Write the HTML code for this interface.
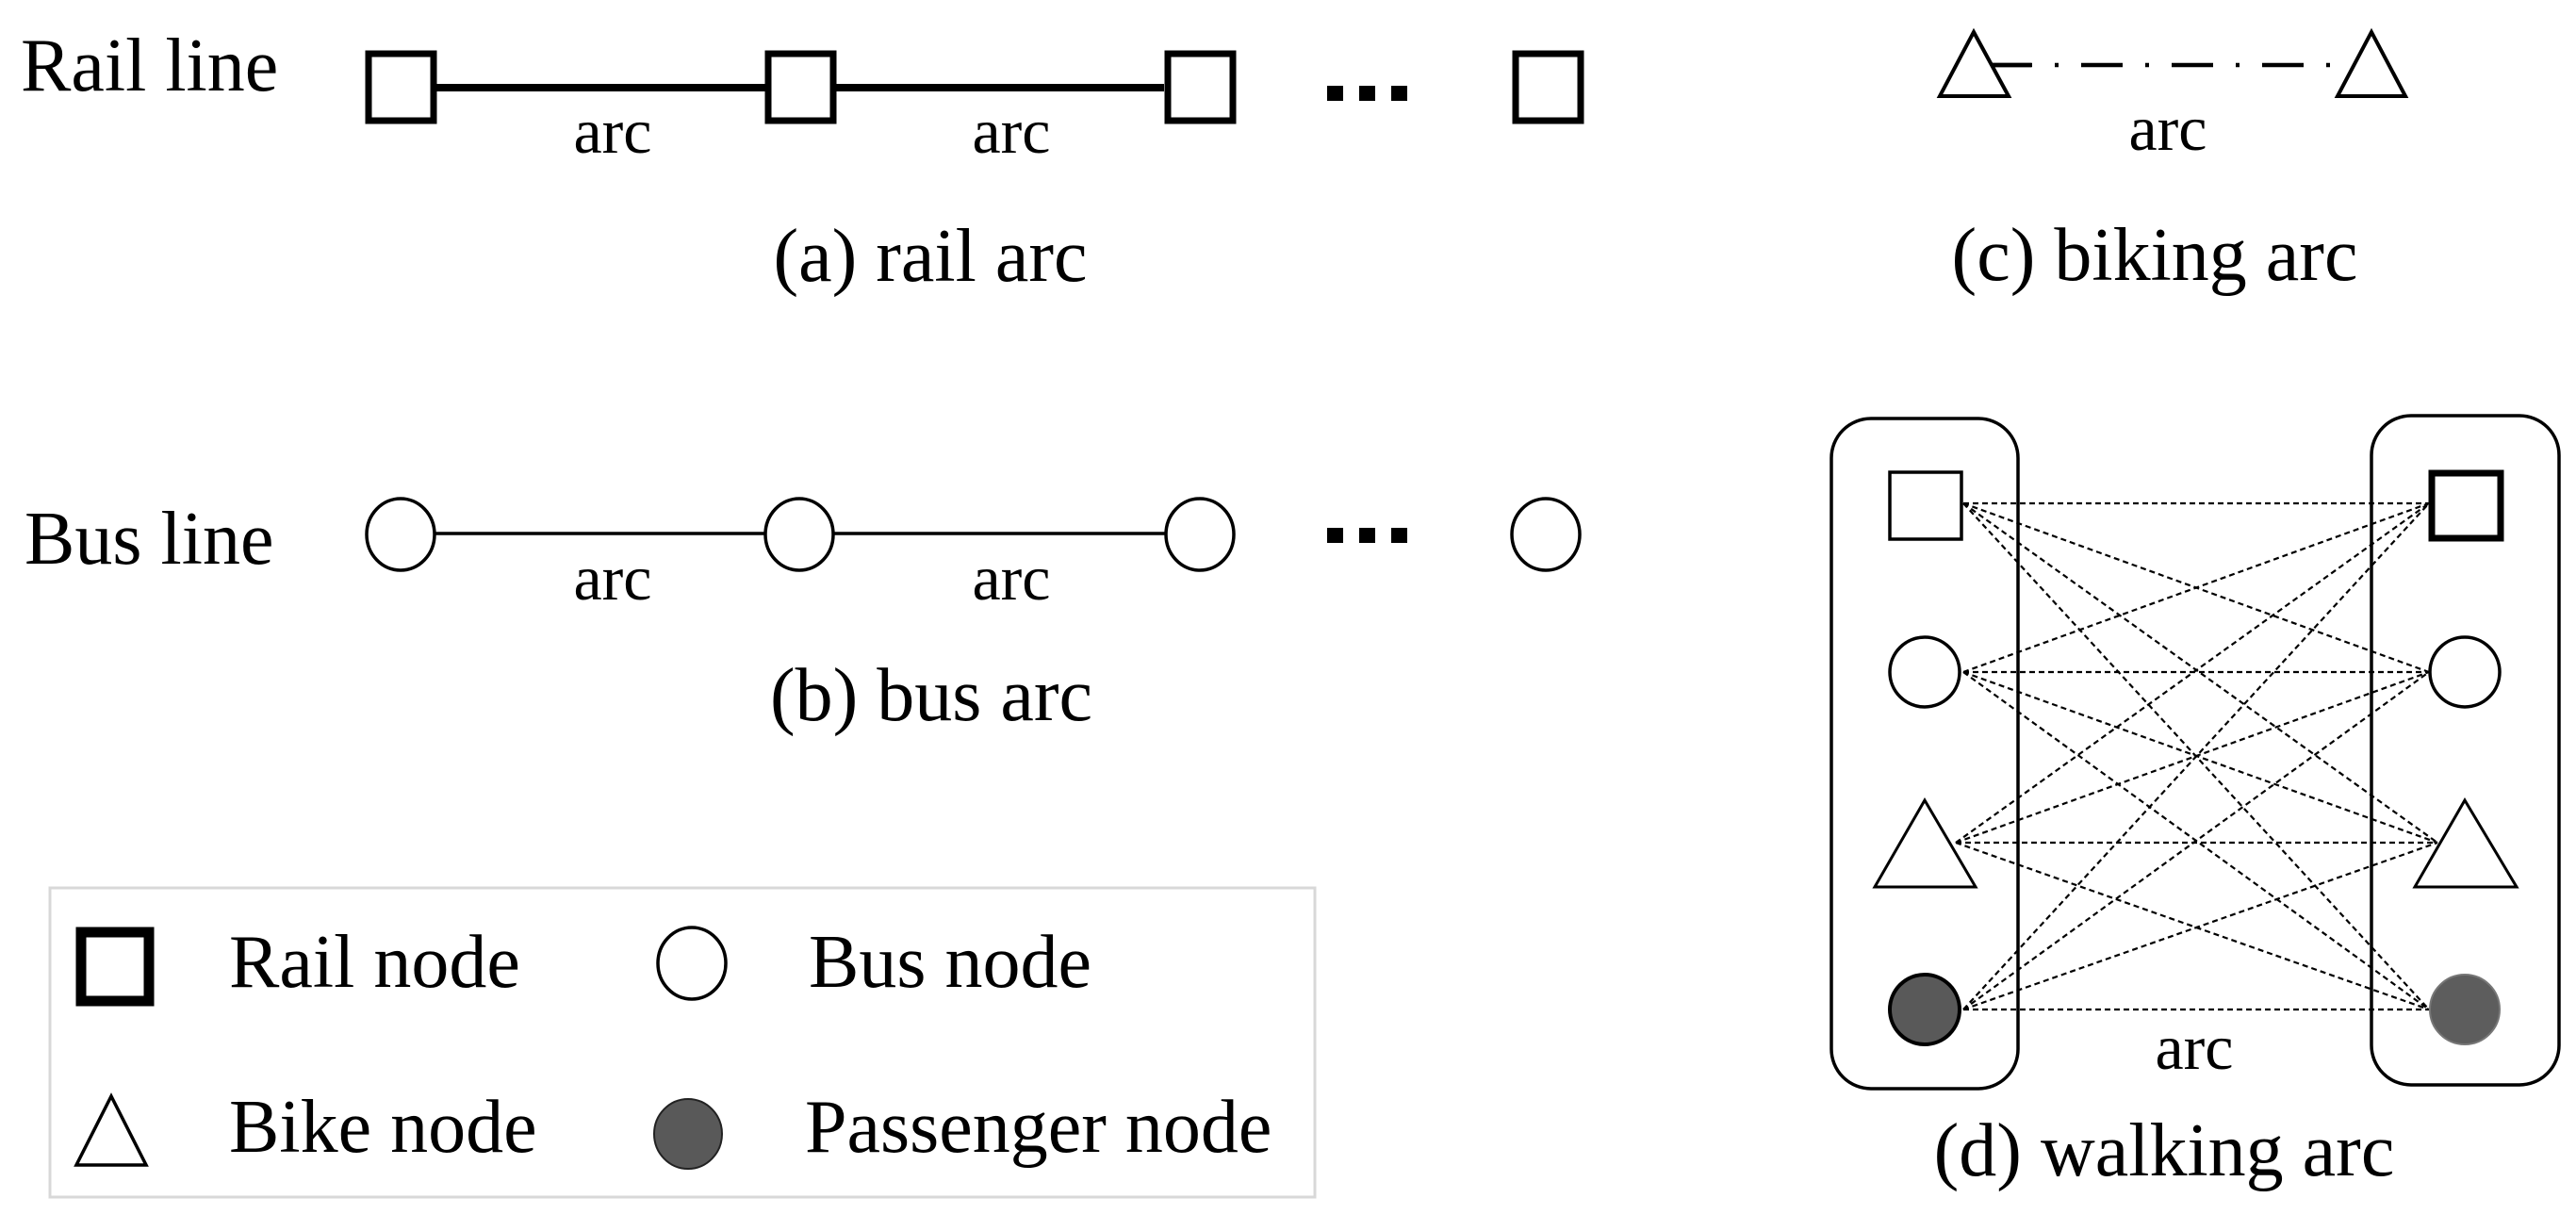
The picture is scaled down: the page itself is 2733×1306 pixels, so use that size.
<!DOCTYPE html>
<html><head><meta charset="utf-8"><style>
html,body{margin:0;padding:0;background:#fff;}
svg{display:block;}
text{font-family:"Liberation Serif",serif;fill:#000;}
</style></head><body>
<svg width="2733" height="1306" viewBox="0 0 2733 1306" xmlns="http://www.w3.org/2000/svg">
<!-- (a) rail -->
<text x="22" y="96" font-size="80">Rail line</text>
<line x1="460" y1="93" x2="1235" y2="93" stroke="#000" stroke-width="8"/>
<g fill="#fff" stroke="#000" stroke-width="7">
<rect x="391" y="57" width="69" height="71"/>
<rect x="815" y="57" width="69" height="71"/>
<rect x="1239" y="57" width="69" height="71"/>
<rect x="1608" y="57" width="69" height="71"/>
</g>
<g fill="#000"><rect x="1408" y="91" width="17" height="16"/><rect x="1442" y="91" width="17" height="16"/><rect x="1476" y="91" width="17" height="16"/></g>
<text x="650" y="162" font-size="68" text-anchor="middle">arc</text>
<text x="1073" y="162" font-size="68" text-anchor="middle">arc</text>
<text x="987" y="298" font-size="80" text-anchor="middle">(a) rail arc</text>
<!-- (b) bus -->
<text x="26" y="598" font-size="80">Bus line</text>
<line x1="460" y1="566" x2="1240" y2="566" stroke="#000" stroke-width="3.5"/>
<g fill="#fff" stroke="#000" stroke-width="3.5">
<ellipse cx="425" cy="567" rx="36" ry="38"/>
<ellipse cx="848" cy="567" rx="36" ry="38"/>
<ellipse cx="1273" cy="567" rx="36" ry="38"/>
<ellipse cx="1640" cy="567" rx="36" ry="38"/>
</g>
<g fill="#000"><rect x="1408" y="560" width="17" height="16"/><rect x="1442" y="560" width="17" height="16"/><rect x="1476" y="560" width="17" height="16"/></g>
<text x="650" y="636" font-size="68" text-anchor="middle">arc</text>
<text x="1073" y="636" font-size="68" text-anchor="middle">arc</text>
<text x="988" y="764" font-size="80" text-anchor="middle">(b) bus arc</text>
<!-- (c) biking -->
<line x1="2112" y1="69" x2="2484" y2="69" stroke="#000" stroke-width="4.5" stroke-dasharray="44 24 4 24"/>
<g fill="#fff" stroke="#000" stroke-width="4">
<polygon points="2094,34 2131,102 2058,102" fill="none"/>
<polygon points="2516,34 2552,102 2480,102"/>
</g>
<line x1="2112" y1="69" x2="2155" y2="69" stroke="#000" stroke-width="4.5"/>
<text x="2300" y="159" font-size="68" text-anchor="middle">arc</text>
<text x="2286" y="297" font-size="80" text-anchor="middle">(c) biking arc</text>
<!-- (d) walking -->
<rect x="1943" y="444" width="198" height="711" rx="42" fill="none" stroke="#000" stroke-width="3.5"/>
<rect x="2516" y="441" width="199" height="710" rx="42" fill="none" stroke="#000" stroke-width="3.5"/>
<g stroke="#000" stroke-width="2.2" stroke-dasharray="6 4">
<line x1="2083" y1="534" x2="2577" y2="534"/><line x1="2083" y1="534" x2="2577" y2="713"/><line x1="2083" y1="534" x2="2586" y2="894"/><line x1="2083" y1="534" x2="2577" y2="1071"/>
<line x1="2083" y1="713" x2="2577" y2="534"/><line x1="2083" y1="713" x2="2577" y2="713"/><line x1="2083" y1="713" x2="2586" y2="894"/><line x1="2083" y1="713" x2="2577" y2="1071"/>
<line x1="2075" y1="894" x2="2577" y2="534"/><line x1="2075" y1="894" x2="2577" y2="713"/><line x1="2075" y1="894" x2="2586" y2="894"/><line x1="2075" y1="894" x2="2577" y2="1071"/>
<line x1="2083" y1="1071" x2="2577" y2="534"/><line x1="2083" y1="1071" x2="2577" y2="713"/><line x1="2083" y1="1071" x2="2586" y2="894"/><line x1="2083" y1="1071" x2="2577" y2="1071"/>
</g>
<g fill="#fff" stroke="#000">
<rect x="2005" y="501" width="76" height="71" stroke-width="3.5"/>
<ellipse cx="2042" cy="713" rx="37" ry="37" stroke-width="3.5"/>
<polygon points="2042,849 2096,941 1989,941" stroke-width="3"/>
<ellipse cx="2042" cy="1071" rx="37" ry="37" fill="#595959" stroke-width="4"/>
<rect x="2580" y="502" width="73" height="69" stroke-width="7"/>
<ellipse cx="2615" cy="713" rx="37" ry="37" stroke-width="3.5"/>
<polygon points="2615,849 2670,941 2562,941" stroke-width="3"/>
<ellipse cx="2615" cy="1071" rx="37" ry="37" fill="#5d5d5d" stroke="#777" stroke-width="2"/>
</g>
<text x="2328" y="1134" font-size="68" text-anchor="middle">arc</text>
<text x="2296" y="1247" font-size="80" text-anchor="middle">(d) walking arc</text>
<!-- legend -->
<rect x="53" y="942" width="1342" height="328" fill="none" stroke="#d8d8d8" stroke-width="3"/>
<rect x="86" y="989" width="72" height="73" fill="#fff" stroke="#000" stroke-width="11"/>
<ellipse cx="734" cy="1022" rx="36" ry="38" fill="#fff" stroke="#000" stroke-width="3.5"/>
<polygon points="118,1163 155,1236 81,1236" fill="#fff" stroke="#000" stroke-width="3.5"/>
<ellipse cx="730" cy="1203" rx="36" ry="37" fill="#595959" stroke="#222" stroke-width="2"/>
<text x="243" y="1047" font-size="80">Rail node</text>
<text x="858" y="1047" font-size="80">Bus node</text>
<text x="243" y="1222" font-size="80">Bike node</text>
<text x="854" y="1222" font-size="80">Passenger node</text>
</svg>
</body></html>
